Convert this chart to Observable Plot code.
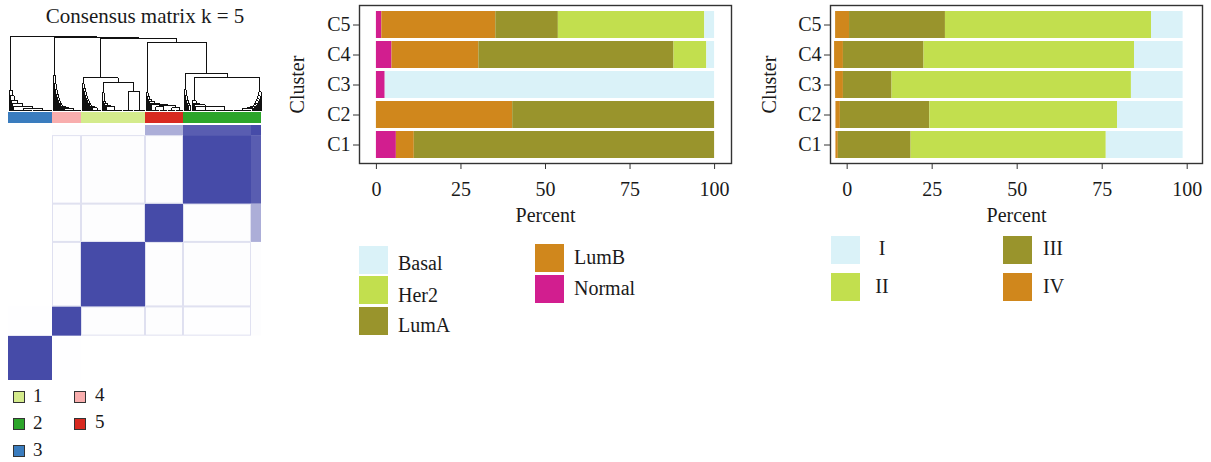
<!DOCTYPE html>
<html>
<head>
<meta charset="utf-8">
<script src="https://cdn.jsdelivr.net/npm/d3@7"></script>
<script src="https://cdn.jsdelivr.net/npm/@observablehq/plot@0.6"></script>
<style>
  body { margin: 0; background: #fff; width: 1211px; height: 462px; position: relative; overflow: hidden;
         font-family: "Liberation Serif", "DejaVu Serif", serif; color: #1a1a1a; }
  .abs { position: absolute; line-height: 1; white-space: nowrap; }
  .sw { position: absolute; }
  .box { position: absolute; width: 10px; height: 10px; border: 1.5px solid #333; }
</style>
</head>
<body>
<div id="title" class="abs" style="left:0;width:290px;text-align:center;top:6px;font-size:21px">Consensus matrix k = 5</div>
<div id="dendro" class="abs" style="left:0;top:30px"></div>
<div id="colorbar" class="abs" style="left:0;top:112px"></div>
<div id="heat" class="abs" style="left:0;top:125px"></div>
<div id="clusterLegend"></div>
<div id="pam" class="abs" style="left:280px;top:0"></div>
<div id="pamLegend"></div>
<div id="stage" class="abs" style="left:756px;top:0"></div>
<div id="stageLegend"></div>
<script>
// ---------- consensus clustering (k = 5) ----------
// clusters in heatmap / dendrogram order, left to right
const clusterOrder = ["3", "4", "1", "5", "2"];
const clusterSizes = [44, 29, 64, 38, 78];
const clusterColors = ["#3a7cbe", "#f8adad", "#d4eb8c", "#d82a20", "#2ca52a"];
const legendClusters = ["1", "2", "3", "4", "5"];

// sample groups used for the consensus heatmap (cluster 2 split into its core and its tail)
const groupNames = ["3", "4", "1", "5", "2", "2 tail"];
const groupSizes = [44, 29, 64, 38, 68, 10];
const consensus = [
  [1,     0.005, 0,     0,     0,     0    ],
  [0.005, 1,     0.01,  0.01,  0.005, 0.01 ],
  [0,     0.01,  1,     0.01,  0.01,  0.01 ],
  [0,     0.01,  0.01,  1,     0.01,  0.45 ],
  [0,     0.005, 0.01,  0.01,  1,     0.9  ],
  [0,     0.01,  0.01,  0.45,  0.9,   1    ]
];

// dendrogram: {h, l, r} merges, numbers are runs of tightly merged samples
const chainLeft = (hs, tail) => hs.reduceRight((acc, h) => ({h, l: 1, r: acc}), tail);
const chainRight = (hs, tail) => hs.reduceRight((acc, h) => ({h, l: acc, r: 1}), tail);
const tree3 = chainLeft([0.27, 0.2, 0.14, 0.09, 0.06], {h: 0.03, l: 19, r: 20});
const tree4 = chainLeft([0.47, 0.36, 0.28, 0.22, 0.17, 0.13, 0.1, 0.08, 0.06, 0.05, 0.04, 0.03], 17);
const tree1 = {h: 0.44,
  l: chainLeft([0.36, 0.3, 0.25, 0.2, 0.16, 0.13, 0.1, 0.08, 0.06, 0.05, 0.04], 9),
  r: {h: 0.38,
      l: chainLeft([0.24, 0.12, 0.09, 0.07, 0.05], 16),
      r: {h: 0.26, l: 11, r: 12}}};
const tree5 = chainLeft([0.24, 0.19, 0.15, 0.12, 0.1, 0.08],
  {h: 0.07, l: {h: 0.05, l: 8, r: 8}, r: {h: 0.04, l: 8, r: 8}});
const tree2 = {h: 0.5,
  l: chainLeft([0.28, 0.2, 0.14, 0.1, 0.07], 3),
  r: {h: 0.44,
      l: chainLeft([0.13, 0.1, 0.08, 0.06], {h: 0.05, l: 20, r: 18}),
      r: chainRight([0.25, 0.2, 0.16, 0.13, 0.1, 0.08, 0.06, 0.05, 0.04, 0.03], 18)}};
const treeRoot = {h: 0.99, l: tree3,
  r: {h: 0.975, l: tree4,
      r: {h: 0.965, l: tree1,
          r: {h: 0.91, l: tree5, r: tree2}}}};

// ---------- PAM50 subtype share (%) per cluster, C1..C5 ----------
const clusters = ["C1", "C2", "C3", "C4", "C5"];
const subtypes = ["Basal", "Her2", "LumA", "LumB", "Normal"];
const subtypeColors = ["#daf2f8", "#c2df4e", "#99942c", "#d0871c", "#d21e8f"];
const subtypeStack = ["Normal", "LumB", "LumA", "Her2", "Basal"];
const normalPct = [5.9, 0, 2.6, 4.6, 1.6];
const lumBPct = [5.3, 40.3, 0, 25.7, 33.7];
const lumAPct = [88.8, 59.7, 0, 57.7, 18.5];
const her2Pct = [0, 0, 0, 9.7, 43.3];
const basalPct = [0, 0, 97.4, 2.3, 2.9];

// ---------- stage share (%) per cluster, C1..C5 ----------
const stages = ["I", "II", "III", "IV"];
const stageColors = ["#daf2f8", "#c2df4e", "#99942c", "#d0871c"];
const stageStack = ["IV", "III", "II", "I"];
const stageStart = [-3.3, -3.3, -3.4, -3.7, -3.4];
const stageIV = [0.7, 1.3, 2.3, 2.6, 4.1];
const stageIII = [21.4, 26.3, 14.3, 23.7, 28.2];
const stageII = [57.4, 55.2, 70.4, 61.9, 60.6];
const stageI = [22.6, 19.3, 15.2, 14.3, 9.3];

const ink = "#1a1a1a";
const serif = "'Liberation Serif', 'DejaVu Serif', serif";

// ---------- dendrogram ----------
function layoutTree(node, start, segs) {
  if (typeof node === "number") {
    if (node > 1) segs.push({x1: start + 0.5, x2: start + node - 0.5, y1: 0, y2: 0});
    return {x: start + node / 2, h: 0, size: node};
  }
  const L = layoutTree(node.l, start, segs);
  const R = layoutTree(node.r, start + L.size, segs);
  segs.push({x1: L.x, x2: L.x, y1: L.h, y2: node.h});
  segs.push({x1: R.x, x2: R.x, y1: R.h, y2: node.h});
  segs.push({x1: L.x, x2: R.x, y1: node.h, y2: node.h});
  return {x: (L.x + R.x) / 2, h: node.h, size: L.size + R.size};
}
const segments = [];
layoutTree(treeRoot, 0, segments);
const nSamples = d3.sum(clusterSizes);

document.getElementById("dendro").append(Plot.plot({
  width: 270, height: 82, marginLeft: 8, marginRight: 9, marginTop: 5, marginBottom: 2,
  x: {domain: [0, nSamples], axis: null},
  y: {domain: [0, 1], axis: null},
  marks: [Plot.link(segments, {x1: "x1", y1: "y1", x2: "x2", y2: "y2", stroke: "#111",
    strokeWidth: 1, shapeRendering: "crispEdges"})]
}));

// ---------- cluster colour bar ----------
const clusterEnds = d3.cumsum(clusterSizes);
const clusterSpans = clusterOrder.map((c, i) => ({cluster: c, x1: clusterEnds[i] - clusterSizes[i], x2: clusterEnds[i]}));
document.getElementById("colorbar").append(Plot.plot({
  width: 270, height: 11, marginLeft: 8, marginRight: 9, marginTop: 0, marginBottom: 0,
  x: {domain: [0, nSamples], axis: null},
  color: {domain: clusterOrder, range: clusterColors},
  marks: [Plot.rectX(clusterSpans, {x1: "x1", x2: "x2", fill: "cluster"})]
}));

// ---------- consensus heatmap ----------
const groupEnds = d3.cumsum(groupSizes);
const cells = [];
groupNames.forEach((gr, i) => groupNames.forEach((gc, j) => {
  cells.push({
    row: gr, col: gc, value: consensus[i][j],
    x1: groupEnds[j] - groupSizes[j], x2: groupEnds[j],
    y1: groupEnds[i] - groupSizes[i], y2: groupEnds[i],
    faint: i !== j && i > 0 && j > 0 && i < 5 && j < 5
  });
}));
document.getElementById("heat").append(Plot.plot({
  width: 270, height: 255, marginLeft: 8, marginRight: 9, marginTop: 0, marginBottom: 0,
  x: {domain: [0, nSamples], axis: null},
  y: {domain: [0, nSamples], axis: null},
  color: {type: "linear", domain: [0, 1], range: ["#ffffff", "#464ba8"]},
  marks: [
    Plot.rect(cells, {x1: "x1", x2: "x2", y1: "y1", y2: "y2", fill: "value"}),
    Plot.rect(cells.filter(d => d.faint), {x1: "x1", x2: "x2", y1: "y1", y2: "y2",
      fill: "none", stroke: "#464ba8", strokeOpacity: 0.16, strokeWidth: 1, inset: 0.5})
  ]
}));

// cluster legend (two columns)
{
  const host = document.getElementById("clusterLegend");
  const colorOf = c => clusterColors[clusterOrder.indexOf(c)];
  legendClusters.forEach((c, i) => {
    const col = i < 3 ? 0 : 1, row = i < 3 ? i : i - 3;
    const top = 391 + row * 27;
    host.insertAdjacentHTML("beforeend",
      `<div class="box" style="left:${13 + col * 61}px;top:${top}px;background:${colorOf(c)}"></div>` +
      `<div class="abs" style="left:${33 + col * 62}px;top:${top - 5 + (col ? -1 : 0)}px;font-size:19px">${c}</div>`);
  });
}

// ---------- shared bar chart ----------
function stackRows(keys, series, stackOrder, starts) {
  const rows = [];
  clusters.forEach((c, i) => {
    let x = starts ? starts[i] : 0;
    stackOrder.forEach(k => {
      const v = series[keys.indexOf(k)][i];
      rows.push({cluster: c, key: k, x1: x, x2: x + v});
      x += v;
    });
  });
  return rows;
}

function barChart({rows, keys, colors, domain, marginLeft, labelOffsetY}) {
  return Plot.plot({
    width: marginLeft + 372 + 4, height: 230,
    marginLeft, marginRight: 4, marginTop: 5, marginBottom: 67,
    style: {fontFamily: serif, fontSize: "20px", color: ink, background: "transparent"},
    x: {domain, ticks: [0, 25, 50, 75, 100]},
    y: {type: "band", domain: ["C5", "C4", "C3", "C2", "C1"], paddingInner: 0.1, paddingOuter: 0.15},
    color: {domain: keys, range: colors},
    marks: [
      Plot.barX(rows, {x1: "x1", x2: "x2", y: "cluster", fill: "key"}),
      Plot.frame({stroke: "#333", strokeWidth: 1.4}),
      Plot.axisX({ticks: [0, 25, 50, 75, 100], tickSize: 6, tickPadding: 12, stroke: "#333",
        label: "Percent", labelAnchor: "center", labelArrow: "none", labelOffset: 58}),
      Plot.axisY({tickSize: 6, tickPadding: 3, stroke: "#333",
        label: "Cluster", labelAnchor: "center", labelArrow: "none", labelOffset: labelOffsetY})
    ]
  });
}

const pamRows = stackRows(subtypes, [basalPct, her2Pct, lumAPct, lumBPct, normalPct], subtypeStack);
document.getElementById("pam").append(barChart({
  rows: pamRows, keys: subtypes, colors: subtypeColors, domain: [-5, 105], marginLeft: 79, labelOffsetY: 70
}));

const stageRows = stackRows(stages, [stageI, stageII, stageIII, stageIV], stageStack, stageStart);
document.getElementById("stage").append(barChart({
  rows: stageRows, keys: stages, colors: stageColors, domain: [-4.9, 104.5], marginLeft: 74, labelOffsetY: 69
}));

// ---------- legends for the bar charts ----------
function swatchLegend(hostId, entries) {
  const host = document.getElementById(hostId);
  entries.forEach(e => {
    host.insertAdjacentHTML("beforeend",
      `<div class="sw" style="left:${e.sx}px;top:${e.sy}px;width:29px;height:28px;background:${e.color}"></div>` +
      `<div class="abs" style="left:${e.tx}px;top:${e.ty}px;font-size:20px;${e.center ? "transform:translateX(-50%);" : ""}">${e.label}</div>`);
  });
}
const subtypeColor = k => subtypeColors[subtypes.indexOf(k)];
swatchLegend("pamLegend", [
  {label: "Basal", color: subtypeColor("Basal"), sx: 359, sy: 246, tx: 398, ty: 253},
  {label: "Her2", color: subtypeColor("Her2"), sx: 359, sy: 276, tx: 398, ty: 285},
  {label: "LumA", color: subtypeColor("LumA"), sx: 359, sy: 307, tx: 398, ty: 315},
  {label: "LumB", color: subtypeColor("LumB"), sx: 535, sy: 244, tx: 574, ty: 246.5},
  {label: "Normal", color: subtypeColor("Normal"), sx: 535, sy: 275, tx: 574, ty: 278}
]);
const stageColor = k => stageColors[stages.indexOf(k)];
swatchLegend("stageLegend", [
  {label: "I", color: stageColor("I"), sx: 831, sy: 236, tx: 882, ty: 238, center: true},
  {label: "II", color: stageColor("II"), sx: 831, sy: 273, tx: 882, ty: 276, center: true},
  {label: "III", color: stageColor("III"), sx: 1003, sy: 236, tx: 1043, ty: 238},
  {label: "IV", color: stageColor("IV"), sx: 1003, sy: 273, tx: 1043, ty: 276}
]);
</script>
</body>
</html>
